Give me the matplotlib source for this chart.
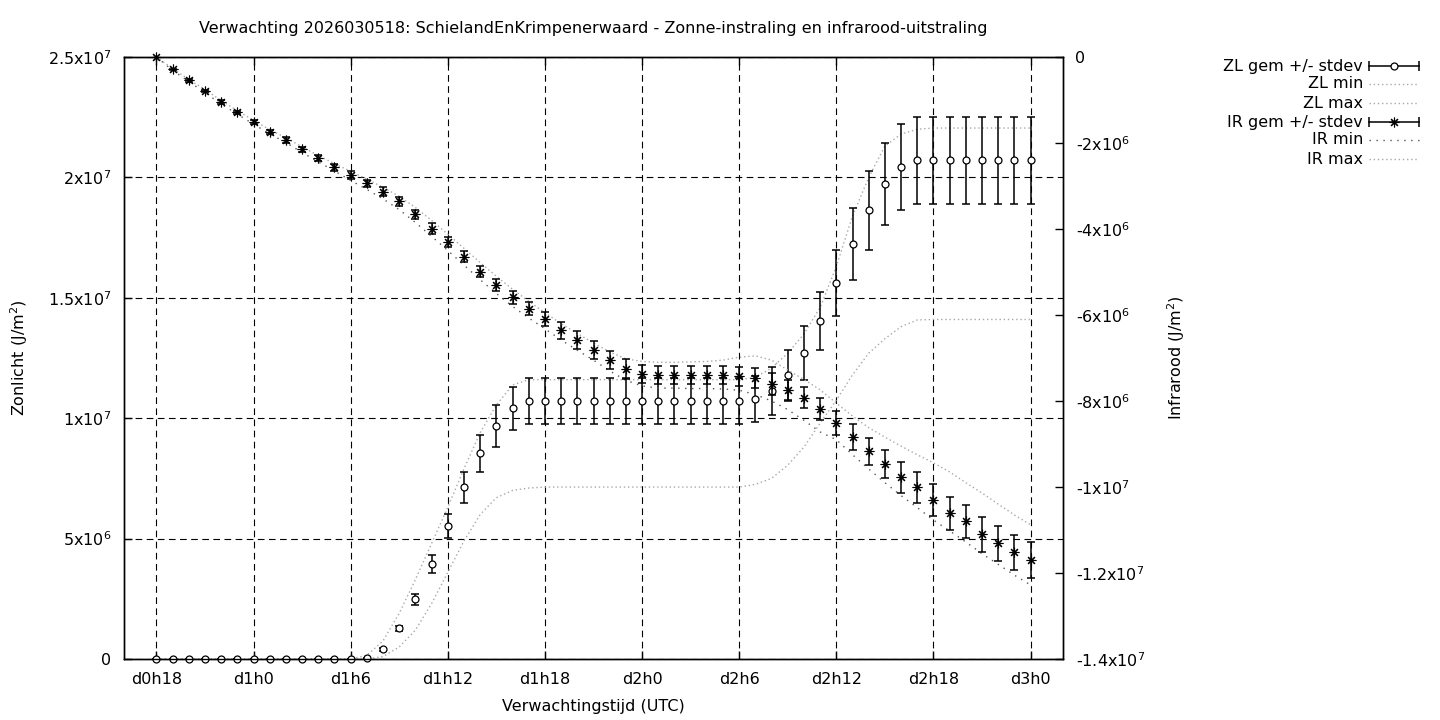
import numpy as np
import matplotlib
matplotlib.use("Agg")
import matplotlib.pyplot as plt
from matplotlib.lines import Line2D

plt.rcParams['font.family'] = 'DejaVu Sans'
plt.rcParams['font.size'] = 11.5

# hours since d0h0, hourly from d0h18 to d3h0
hours = np.arange(18, 73)

# Zonlicht (sunlight), units of 1e6 J/m2
zl_mean = [0, 0, 0, 0, 0, 0, 0, 0, 0, 0, 0, 0, 0,
           0.04, 0.40, 1.27, 2.48, 3.95, 5.52, 7.13, 8.54, 9.68, 10.41,
           10.71, 10.71, 10.71, 10.71, 10.71, 10.71, 10.71, 10.71, 10.71, 10.71, 10.71, 10.71, 10.71, 10.71,
           10.80, 11.13, 11.79, 12.70, 14.04, 15.61, 17.22, 18.63, 19.71, 20.42,
           20.71, 20.71, 20.71, 20.71, 20.71, 20.71, 20.71, 20.71]
zl_std = [0, 0, 0, 0, 0, 0, 0, 0, 0, 0, 0, 0, 0,
          0.02, 0.05, 0.12, 0.22, 0.36, 0.51, 0.65, 0.76, 0.87, 0.90,
          0.94, 0.94, 0.94, 0.94, 0.94, 0.94, 0.94, 0.94, 0.94, 0.94, 0.94, 0.94, 0.94, 0.94,
          0.95, 0.98, 1.05, 1.12, 1.22, 1.38, 1.50, 1.65, 1.70, 1.79,
          1.81, 1.81, 1.81, 1.81, 1.81, 1.81, 1.81, 1.81]
zl_min = [0, 0, 0, 0, 0, 0, 0, 0, 0, 0, 0, 0, 0,
          0, 0.1, 0.5, 1.2, 2.3, 3.6, 4.9, 6.0, 6.7, 7.0,
          7.1, 7.14, 7.14, 7.14, 7.14, 7.14, 7.14, 7.14, 7.14, 7.14, 7.14, 7.14, 7.14, 7.14,
          7.25, 7.5, 8.05, 8.8, 9.8, 10.75, 11.8, 12.7, 13.3, 13.8,
          14.08, 14.1, 14.1, 14.1, 14.1, 14.1, 14.1, 14.1]
zl_max = [0, 0, 0, 0, 0, 0, 0, 0, 0, 0, 0, 0, 0,
          0.15, 0.75, 1.9, 3.3, 4.8, 6.3, 7.9, 9.4, 10.55, 11.38,
          11.6, 11.6, 11.6, 11.6, 11.6, 11.6, 11.6, 11.6, 11.6, 11.6, 11.6, 11.6, 11.6, 11.6,
          11.7, 12.08, 12.7, 13.5, 14.6, 16.3, 18.4, 20.0, 21.3, 21.8,
          22.0, 22.05, 22.05, 22.05, 22.05, 22.05, 22.05, 22.05]

# Infrarood (infrared), units of 1e6 J/m2
ir_mean = [0, -0.29, -0.54, -0.79, -1.05, -1.29, -1.51, -1.74, -1.93, -2.15,
           -2.36, -2.56, -2.74, -2.94, -3.13, -3.36, -3.66, -3.99, -4.31, -4.64,
           -4.99, -5.30, -5.59, -5.85, -6.09, -6.36, -6.58, -6.81, -7.05, -7.26,
           -7.38, -7.40, -7.39, -7.39, -7.40, -7.40, -7.43, -7.46, -7.61, -7.75,
           -7.92, -8.19, -8.52, -8.84, -9.17, -9.47, -9.77, -10.01, -10.31, -10.61,
           -10.80, -11.10, -11.31, -11.52, -11.70]
ir_std = [0, 0.02, 0.03, 0.03, 0.04, 0.04, 0.05, 0.05, 0.06, 0.06,
          0.07, 0.08, 0.09, 0.09, 0.11, 0.11, 0.11, 0.12, 0.12, 0.13,
          0.13, 0.14, 0.15, 0.16, 0.17, 0.19, 0.20, 0.21, 0.21, 0.23,
          0.21, 0.21, 0.21, 0.21, 0.21, 0.21, 0.22, 0.23, 0.26, 0.24,
          0.24, 0.25, 0.28, 0.30, 0.31, 0.33, 0.36, 0.37, 0.37, 0.38,
          0.38, 0.41, 0.40, 0.41, 0.41]
ir_min = [0, -0.31, -0.57, -0.83, -1.09, -1.33, -1.56, -1.79, -1.99, -2.22,
          -2.44, -2.65, -2.87, -3.08, -3.30, -3.55, -3.85, -4.17, -4.50, -4.84,
          -5.18, -5.50, -5.80, -6.07, -6.32, -6.58, -6.82, -7.05, -7.30, -7.52,
          -7.65, -7.70, -7.70, -7.71, -7.71, -7.72, -7.75, -7.85, -8.00, -8.20,
          -8.45, -8.72, -8.90, -9.25, -9.58, -9.90, -10.20, -10.48, -10.77, -11.02,
          -11.28, -11.55, -11.80, -12.05, -12.28]
ir_max = [0, -0.27, -0.52, -0.76, -1.01, -1.25, -1.47, -1.69, -1.88, -2.09,
          -2.29, -2.48, -2.66, -2.84, -3.03, -3.24, -3.50, -3.80, -4.12, -4.45,
          -4.78, -5.10, -5.40, -5.68, -5.95, -6.20, -6.43, -6.65, -6.86, -7.02,
          -7.08, -7.10, -7.10, -7.09, -7.08, -7.05, -6.98, -6.95, -7.05, -7.28,
          -7.50, -7.74, -8.05, -8.35, -8.62, -8.84, -9.05, -9.25, -9.44, -9.65,
          -9.90, -10.14, -10.40, -10.65, -10.88]

xticks = [18, 24, 30, 36, 42, 48, 54, 60, 66, 72]
xticklabels = ['d0h18', 'd1h0', 'd1h6', 'd1h12', 'd1h18', 'd2h0', 'd2h6', 'd2h12', 'd2h18', 'd3h0']
zl_ticks = [0, 5e6, 1e7, 1.5e7, 2e7, 2.5e7]
zl_ticklabels = ['0', '5x10$^{6}$', '1x10$^{7}$', '1.5x10$^{7}$', '2x10$^{7}$', '2.5x10$^{7}$']
ir_ticks = [0, -2e6, -4e6, -6e6, -8e6, -1e7, -1.2e7, -1.4e7]
ir_ticklabels = ['0', '-2x10$^{6}$', '-4x10$^{6}$', '-6x10$^{6}$', '-8x10$^{6}$',
                 '-1x10$^{7}$', '-1.2x10$^{7}$', '-1.4x10$^{7}$']

W, H = 1440, 720
fig = plt.figure(figsize=(W / 100, H / 100), dpi=100)
ax = fig.add_axes([124 / W, 1 - 659 / H, (1063 - 124) / W, (659 - 57) / H])
ax2 = ax.twinx()

scale = 1e6
asterisk = (8, 2, 0)
dot_light = dict(color='#a8a8a8', lw=1.0, ls=(0, (1, 2)))
dot_dark = dict(color='#555555', lw=1.0, ls=(0, (1, 4)))

# sunlight
ax.plot(hours, np.array(zl_min) * scale, **dot_light)
ax.plot(hours, np.array(zl_max) * scale, **dot_light)
ax.errorbar(hours, np.array(zl_mean) * scale, yerr=np.array(zl_std) * scale,
            fmt='none', ecolor='black', elinewidth=1.1, capsize=3, capthick=1.1)
ax.plot(hours, np.array(zl_mean) * scale, ls='none', marker='o', mfc='white',
        mec='black', ms=5, mew=0.9, clip_on=False, zorder=3)

# infrared
ax2.plot(hours, np.array(ir_min) * scale, **dot_dark)
ax2.plot(hours, np.array(ir_max) * scale, **dot_light)
ax2.errorbar(hours, np.array(ir_mean) * scale, yerr=np.array(ir_std) * scale,
             fmt='none', ecolor='black', elinewidth=1.1, capsize=3, capthick=1.1)
ax2.plot(hours, np.array(ir_mean) * scale, ls='none', marker=asterisk,
         color='black', ms=7, mew=0.8, clip_on=False)

ax.set_xlim(16, 74)
ax.set_ylim(0, 2.5e7)
ax2.set_ylim(-1.4e7, 0)

ax.set_xticks(xticks)
ax.set_xticklabels(xticklabels)
ax.set_yticks(zl_ticks)
ax.set_yticklabels(zl_ticklabels)
ax2.set_yticks(ir_ticks)
ax2.set_yticklabels(ir_ticklabels)

ax.tick_params(axis='x', direction='in', length=6, width=1, pad=9, top=True)
ax.tick_params(axis='y', direction='in', length=6, width=1, pad=9)
ax2.tick_params(axis='y', direction='in', length=6, width=1, pad=9)

ax.grid(True, color='black', lw=0.8, ls=(0, (6, 4)))
ax.set_axisbelow(True)

for a in (ax, ax2):
    for s in a.spines.values():
        s.set_linewidth(1.0)

ax.set_xlabel('Verwachtingstijd (UTC)', labelpad=9)
ax.set_ylabel('Zonlicht (J/m$^2$)', labelpad=13)
ax2.set_ylabel('Infrarood (J/m$^2$)', labelpad=15)
ax.set_title('Verwachting 2026030518: SchielandEnKrimpenerwaard - Zonne-instraling en infrarood-uitstraling',
             fontsize=11.5, pad=17)

# gnuplot-style legend outside at the right
labels = ['ZL gem +/- stdev', 'ZL min', 'ZL max', 'IR gem +/- stdev', 'IR min', 'IR max']
rows = [66, 84, 103, 122, 140, 159]
styles = ['zl', dot_light, dot_light, 'ir', dot_dark, dot_light]
x_text, x0, x1 = 1363 / W, 1369 / W, 1419 / W
for lab, ry, st in zip(labels, rows, styles):
    y = 1 - ry / H
    fig.text(x_text, y, lab, ha='right', va='center')
    if isinstance(st, dict):
        fig.add_artist(Line2D([x0, x1], [y, y], transform=fig.transFigure, **st))
    else:
        fig.add_artist(Line2D([x0, x1], [y, y], transform=fig.transFigure, color='black', lw=1.1))
        fig.add_artist(Line2D([x0, x1], [y, y], transform=fig.transFigure, ls='none',
                              marker='|', ms=7, mew=1.1, color='black'))
        if st == 'zl':
            fig.add_artist(Line2D([(x0 + x1) / 2], [y], transform=fig.transFigure, marker='o',
                                  ms=5, mfc='white', mec='black', mew=0.9))
        else:
            fig.add_artist(Line2D([(x0 + x1) / 2], [y], transform=fig.transFigure, marker=asterisk,
                                  ms=7, mew=0.8, color='black'))

fig.savefig('out.png', dpi=100)
